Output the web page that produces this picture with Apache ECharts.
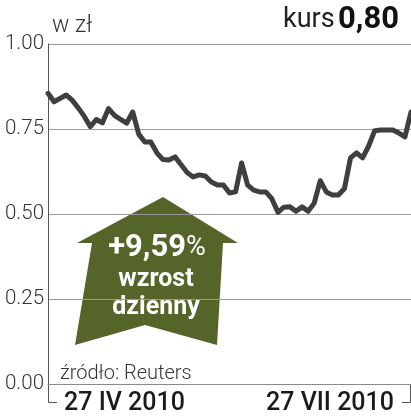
<!DOCTYPE html>
<html><head><meta charset="utf-8">
<script src="https://cdn.jsdelivr.net/npm/echarts@6/dist/echarts.min.js"></script>
<style>html,body{margin:0;padding:0;background:#fff}#c{width:411px;height:420px}</style>
</head><body><div id="c"></div>
<script>
// trading-day index (27 IV 2010 .. 27 VII 2010)
const days = Array.from({length: 61}, (_, i) => String(i + 1));
const prices = [0.855,0.83,0.84,0.85,0.835,0.812,0.787,0.757,0.778,0.768,
  0.81,0.79,0.778,0.767,0.80,0.735,0.712,0.712,0.68,0.66,
  0.659,0.668,0.645,0.622,0.609,0.615,0.612,0.594,0.585,0.585,
  0.562,0.565,0.65,0.585,0.57,0.565,0.565,0.545,0.505,0.52,
  0.521,0.508,0.521,0.508,0.532,0.598,0.565,0.556,0.556,0.575,
  0.665,0.68,0.665,0.70,0.745,0.747,0.747,0.747,0.738,0.727,0.80];
const yTicks = [0, 0.25, 0.5, 0.75, 1.0];
const dateLabels = ['27 IV 2010', '27 VII 2010'];
const unitLabel = 'w zł';
const kursLabel = 'kurs';
const kursValue = '0,80';
const changeLabel = '+9,59';
const changeLines = ['wzrost', 'dzienny'];
const sourceLabel = 'źródło: Reuters';

const chart = echarts.init(document.getElementById('c'));
const font = 'Roboto, "Liberation Sans", sans-serif';
const green = '#556428';
chart.setOption({
  animation: false,
  grid: {left: 48, right: 0, top: 44, bottom: 36, containLabel: false},
  xAxis: {
    type: 'category', data: days, boundaryGap: false,
    axisLine: {show: true, lineStyle: {color: '#8a8a8a', width: 1}},
    axisTick: {show: false}, axisLabel: {show: false}, splitLine: {show: false}
  },
  yAxis: {
    type: 'value', min: 0, max: 1, interval: 0.25,
    axisLine: {show: true, lineStyle: {color: '#555', width: 1}},
    axisTick: {show: false},
    axisLabel: {margin: 4, color: '#333', fontFamily: font, fontWeight: 300, fontSize: 20.5,
      formatter: v => v.toFixed(2)},
    splitLine: {show: true, lineStyle: {color: '#9a9a9a', width: 1}}
  },
  series: [{
    type: 'line', data: prices, symbol: 'none', smooth: false,
    lineStyle: {color: '#3f3f3f', width: 5, join: 'round', cap: 'round'}
  }],
  graphic: [
    {type: 'text', left: 52, top: 15, style: {text: unitLabel, fill: '#333', font: '300 23px ' + font}},
    {type: 'text', right: 12, top: 5, style: {
      text: '{a|' + kursLabel + '} {b|' + kursValue + '}',
      rich: {a: {fontFamily: font, fontSize: 27, fontWeight: 400, fill: '#222'},
             b: {fontFamily: font, fontSize: 31, fontWeight: 700, fill: '#111'}}
    }},
    {type: 'polygon', shape: {points: [[163,197],[238,243],[223,243],[217,345],[145,325],[75,345],[92,243],[77,243]]},
      style: {fill: green}},
    {type: 'text', x: 157, y: 248, style: {
      text: '{a|' + changeLabel + '}{b|%}', align: 'center', verticalAlign: 'middle',
      rich: {a: {fontFamily: font, fontSize: 31, fontWeight: 700, fill: '#fff'},
             b: {fontFamily: font, fontSize: 27, fontWeight: 400, fill: '#fff'}}
    }},
    {type: 'text', x: 156, y: 280, style: {text: changeLines[0], align: 'center', verticalAlign: 'middle',
      fill: '#fff', font: '700 25px ' + font}},
    {type: 'text', x: 156, y: 308, style: {text: changeLines[1], align: 'center', verticalAlign: 'middle',
      fill: '#fff', font: '700 25px ' + font}},
    {type: 'text', x: 60, y: 374, style: {text: sourceLabel, verticalAlign: 'middle', fill: '#333',
      font: '300 20px ' + font}},
    {type: 'polyline', shape: {points: [[48.5,384],[48.5,402.5],[57,402.5]]}, style: {stroke: '#555', lineWidth: 1, fill: null}},
    {type: 'polyline', shape: {points: [[410.5,384],[410.5,402.5],[402,402.5]]}, style: {stroke: '#555', lineWidth: 1, fill: null}},
    {type: 'text', x: 64, y: 404, style: {text: dateLabels[0], verticalAlign: 'middle', fill: '#1a1a1a',
      font: '500 25px ' + font}},
    {type: 'text', x: 394, y: 404, style: {text: dateLabels[1], align: 'right', verticalAlign: 'middle', fill: '#1a1a1a',
      font: '500 25px ' + font}}
  ]
});
</script></body></html>
